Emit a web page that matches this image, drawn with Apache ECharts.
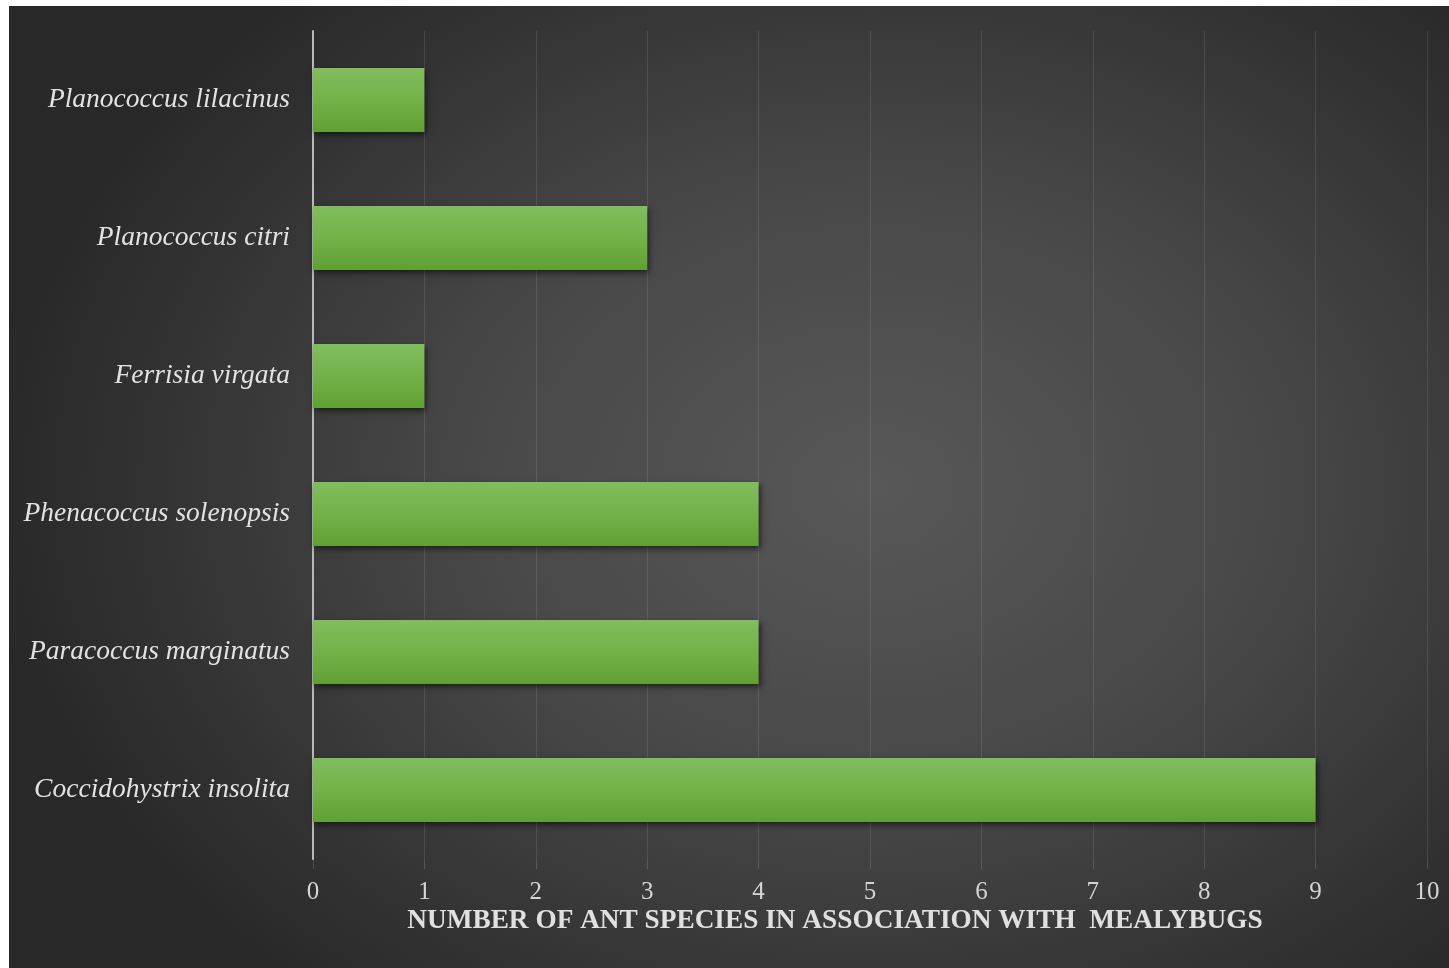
<!DOCTYPE html>
<html>
<head>
<meta charset="utf-8">
<script src="https://cdn.jsdelivr.net/npm/echarts@6/dist/echarts.min.js"></script>
<style>
  html, body { margin: 0; padding: 0; background: #ffffff; }
  #chart {
    position: absolute; left: 9px; top: 6px; width: 1440px; height: 962px;
    background: radial-gradient(ellipse 62% 70% at 60% 50%, #585858 0%, #484848 45%, #303030 85%, #282828 100%);
  }
</style>
</head>
<body>
<div id="chart"></div>
<script>
// Mealybug species (bottom to top) and number of associated ant species
const species = [
  'Coccidohystrix insolita',
  'Paracoccus marginatus',
  'Phenacoccus solenopsis',
  'Ferrisia virgata',
  'Planococcus citri',
  'Planococcus lilacinus'
];
const antCounts = [9, 4, 4, 1, 3, 1];
const xTicks = [0, 1, 2, 3, 4, 5, 6, 7, 8, 9, 10];
const xTitle = 'NUMBER OF ANT SPECIES IN ASSOCIATION WITH  MEALYBUGS';

const SERIF = "'Liberation Serif', 'Times New Roman', serif";

const chart = echarts.init(document.getElementById('chart'), null, { renderer: 'canvas' });

chart.setOption({
  backgroundColor: 'transparent',
  animation: false,
  grid: { left: 304, right: 22, top: 25, bottom: 109, containLabel: false },
  xAxis: {
    type: 'value',
    min: xTicks[0],
    max: xTicks[xTicks.length - 1],
    interval: 1,
    axisLine: { show: false },
    axisTick: { show: true, length: 10, lineStyle: { color: 'rgba(255,255,255,0.14)', width: 1 } },
    splitLine: { show: true, lineStyle: { color: 'rgba(255,255,255,0.10)', width: 1 } },
    axisLabel: {
      color: '#d4d4d4', fontFamily: SERIF, fontSize: 25, margin: 21
    }
  },
  yAxis: {
    type: 'category',
    data: species,
    axisLine: { show: true, lineStyle: { color: '#b8b8b8', width: 2 } },
    axisTick: { show: false },
    splitLine: { show: false },
    axisLabel: {
      color: '#e2e2e2', fontFamily: SERIF, fontStyle: 'italic', fontSize: 27.5, margin: 23
    }
  },
  series: [{
    type: 'bar',
    data: antCounts,
    barWidth: 64,
    itemStyle: {
      color: new echarts.graphic.LinearGradient(0, 0, 0, 1, [
        { offset: 0, color: '#81bd5d' },
        { offset: 0.5, color: '#72b249' },
        { offset: 1, color: '#5f9f33' }
      ]),
      shadowColor: 'rgba(0,0,0,0.55)',
      shadowBlur: 6,
      shadowOffsetX: 2,
      shadowOffsetY: 3
    }
  }],
  graphic: [{
    type: 'text',
    style: {
      x: 826,
      y: 915,
      text: xTitle,
      fill: '#e0e0e0',
      font: "bold 27.3px 'Liberation Serif', 'Times New Roman', serif",
      textAlign: 'center',
      textVerticalAlign: 'middle'
    }
  }]
});
</script>
</body>
</html>
